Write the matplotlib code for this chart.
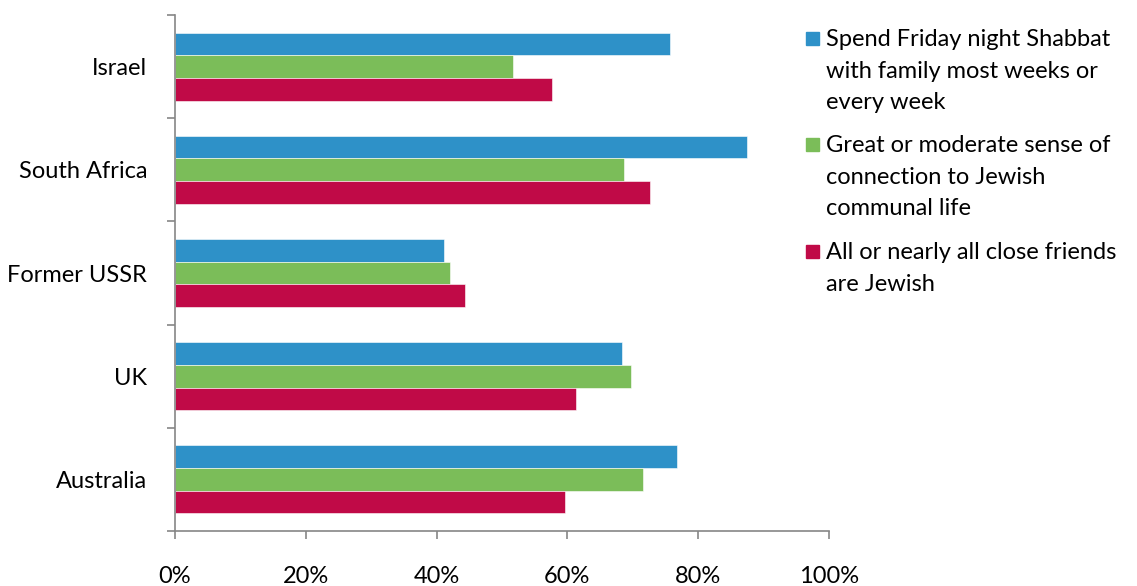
import matplotlib
matplotlib.use("Agg")
import matplotlib.pyplot as plt
from matplotlib.patches import Rectangle
import numpy as np

countries = ["Israel", "South Africa", "Former USSR", "UK", "Australia"]
shabbat = [75.7, 87.5, 41.1, 68.3, 76.8]
connection = [51.7, 68.7, 42.1, 69.7, 71.6]
friends = [57.7, 72.7, 44.4, 61.3, 59.7]
series_labels = [
    ["Spend Friday night Shabbat", "with family most weeks or", "every week"],
    ["Great or moderate sense of", "connection to Jewish", "communal life"],
    ["All or nearly all close friends", "are Jewish"],
]
colors = ["#2E91C8", "#7BBD59", "#C00A47"]
xticks = [0, 20, 40, 60, 80, 100]

plt.rcParams['font.family'] = ['Lato', 'DejaVu Sans']
W, H = 1137, 586

fig = plt.figure(figsize=(W / 100, H / 100), dpi=100)
ax = fig.add_axes([175 / W, 1 - 531 / H, (829 - 175) / W, (531 - 15) / H])

y = np.arange(len(countries))
h = 0.22
for i, (vals, col) in enumerate(zip([shabbat, connection, friends], colors)):
    ax.barh(y + (i - 1) * h, vals, height=h, color=col,
            edgecolor="white", linewidth=0.4)

ax.set_ylim(len(countries) - 0.5, -0.5)
ax.set_xlim(0, 100)

# category separators as major ticks, labels on minor ticks
ax.set_yticks(np.arange(-0.5, len(countries), 1))
ax.set_yticklabels([])
ax.set_yticks(y, minor=True)
ax.set_yticklabels(countries, minor=True, fontsize=17)
ax.tick_params(axis="y", which="minor", length=0, pad=20)
ax.tick_params(axis="y", which="major", length=6, color="#868686", width=1.2)

ax.set_xticks(xticks)
ax.set_xticklabels([f"{t}%" for t in xticks], fontsize=17)
ax.tick_params(axis="x", length=6, color="#868686", width=1.2, pad=19)

for s in ["top", "right"]:
    ax.spines[s].set_visible(False)
for s in ["left", "bottom"]:
    ax.spines[s].set_color("#868686")
    ax.spines[s].set_linewidth(1.2)

# legend, drawn by hand so the square sits on the first line
entry_top = [38, 144, 251]
pitch = 31.7
for lines, col, y0 in zip(series_labels, colors, entry_top):
    fig.patches.append(Rectangle((806 / W, 1 - (y0 + 6.5) / H), 13 / W, 13 / H,
                                 transform=fig.transFigure, color=col))
    for k, line in enumerate(lines):
        fig.text(826 / W, 1 - (y0 + k * pitch + 8) / H, line,
                 fontsize=17, va="baseline", ha="left")

fig.savefig("out.png", dpi=100)
